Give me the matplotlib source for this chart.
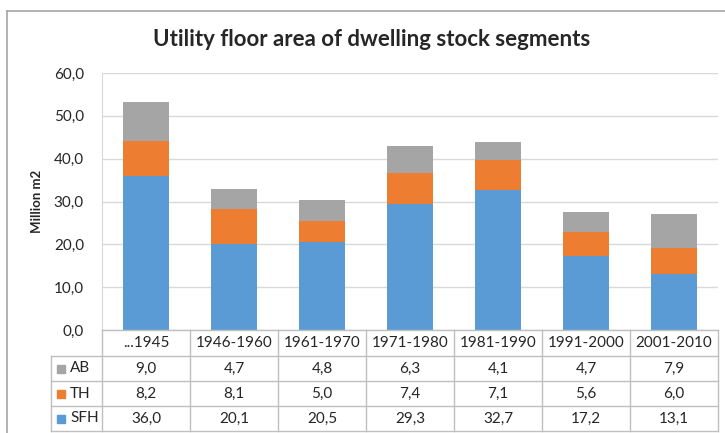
import matplotlib.pyplot as plt
from matplotlib.lines import Line2D
from matplotlib.patches import Rectangle
import matplotlib.transforms as mtransforms

plt.rcParams['font.family'] = ['Lato', 'DejaVu Sans']

periods = ['...1945', '1946-1960', '1961-1970', '1971-1980', '1981-1990', '1991-2000', '2001-2010']
sfh = [36.0, 20.1, 20.5, 29.3, 32.7, 17.2, 13.1]
th = [8.2, 8.1, 5.0, 7.4, 7.1, 5.6, 6.0]
ab = [9.0, 4.7, 4.8, 6.3, 4.1, 4.7, 7.9]
yticks = [0, 10, 20, 30, 40, 50, 60]

c_sfh = '#5b9bd5'
c_th = '#ed7d31'
c_ab = '#a5a5a5'
grid_c = '#d9d9d9'
txt_c = '#262626'

W, H = 725, 433
fig = plt.figure(figsize=(W / 100, H / 100), dpi=100)

# pixel layout of the plot area
L, R, T, B = 102, 718, 73, 330
ax = fig.add_axes([L / W, 1 - B / H, (R - L) / W, (B - T) / H])

x = list(range(len(periods)))
bw = 0.52
ax.bar(x, sfh, bw, color=c_sfh, zorder=3)
bot = [a for a in sfh]
ax.bar(x, th, bw, bottom=bot, color=c_th, zorder=3)
bot = [a + b for a, b in zip(sfh, th)]
ax.bar(x, ab, bw, bottom=bot, color=c_ab, zorder=3)

ax.set_xlim(-0.5, len(periods) - 0.5)
ax.set_ylim(0, 60)
ax.set_yticks(yticks)
ax.set_yticklabels([f'{v:.1f}'.replace('.', ',') for v in yticks], fontsize=11, color=txt_c)
ax.tick_params(axis='y', length=0, pad=13)
ax.set_xticks([])
ax.grid(axis='y', color=grid_c, lw=1, zorder=0)
for s in ['top', 'right', 'bottom']:
    ax.spines[s].set_visible(False)
ax.spines['left'].set_color(grid_c)
ax.set_ylabel('Million m2', fontsize=9.5, fontweight='bold', color=txt_c, labelpad=8)

fig.text(372 / W, 1 - 40 / H, 'Utility floor area of dwelling stock segments', fontsize=16,
         fontweight='bold', color=txt_c, ha='center', va='center')

# data table below the axis, x in data coords, y in pixels of the figure
trans = mtransforms.blended_transform_factory(ax.transData, fig.transFigure)
def fy(py):
    return 1 - py / H

row_top = [330, 356, 381, 406, 431]
line_c = '#bfbfbf'
n = len(periods)
x_lab = -0.5 - (L - 51) / ((R - L) / n)

def hline(x0, x1, py):
    fig.add_artist(Line2D([x0, x1], [fy(py), fy(py)], transform=trans, color=line_c, lw=1))

def vline(xx, p0, p1):
    fig.add_artist(Line2D([xx, xx], [fy(p0), fy(p1)], transform=trans, color=line_c, lw=1))

hline(-0.5, n - 0.5, row_top[0])
for py in row_top[1:]:
    hline(x_lab, n - 0.5, py)
for i in range(n + 1):
    vline(i - 0.5, row_top[0], row_top[-1])
vline(x_lab, row_top[1], row_top[-1])

for i, p in enumerate(periods):
    fig.text(i, fy((row_top[0] + row_top[1]) / 2), p, transform=trans, ha='center',
             va='center', fontsize=11, color=txt_c)

rows = [('AB', ab, c_ab), ('TH', th, c_th), ('SFH', sfh, c_sfh)]
for r, (name, vals, col) in enumerate(rows):
    yc = (row_top[r + 1] + row_top[r + 2]) / 2
    for i, v in enumerate(vals):
        fig.text(i, fy(yc), f'{v:.1f}'.replace('.', ','), transform=trans, ha='center',
                 va='center', fontsize=11, color=txt_c)
    fig.add_artist(Rectangle((57 / W, fy(yc + 4)), 8 / W, 8 / H, transform=fig.transFigure,
                             color=col))
    fig.text(70 / W, fy(yc), name, ha='left', va='center', fontsize=11, color=txt_c)

# outer chart border
fig.add_artist(Line2D([7 / W, 7 / W], [0, fy(11)], color='#a6a6a6', lw=1.2))
fig.add_artist(Line2D([7 / W, 1], [fy(11), fy(11)], color='#a6a6a6', lw=1.2))

fig.savefig('out.png', dpi=100)
